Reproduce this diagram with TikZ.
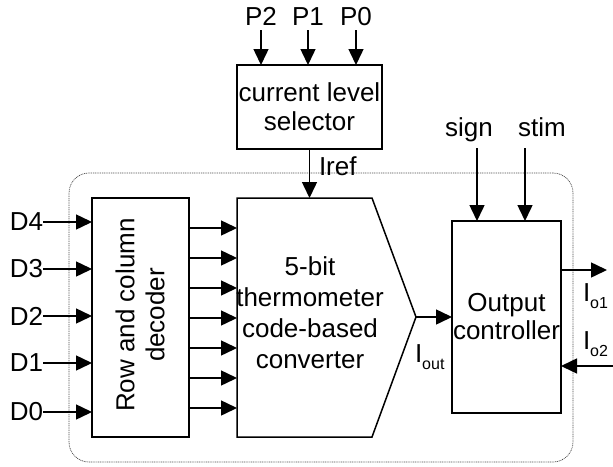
\documentclass[tikz,border=0pt]{standalone}
\usepackage{fontspec}
\setmainfont{Liberation Sans}
\usetikzlibrary{arrows.meta,calc}
\newcommand{\subtxt}[1]{\raisebox{-7pt}{\fontsize{16}{16}\selectfont #1}}
\begin{document}
\begin{tikzpicture}[x=1pt,y=-1pt,
  every node/.style={font=\fontsize{26}{29}\selectfont, inner sep=0pt, outer sep=0pt},
  blk/.style={draw, line width=1.5pt},
  arr/.style={-{Triangle[length=16pt,width=15pt]}, line width=1.5pt},
  frame/.style={draw=black!70, line width=0.7pt, dash pattern=on 1pt off 0.8pt, rounded corners=20pt}]
\useasboundingbox (0,0) rectangle (613,466);
% outer dotted frame
\node[frame, minimum width=504, minimum height=289] (frm) at (321,317.5) {};
% current level selector
\node[draw, line width=2.8pt, minimum width=145, minimum height=84, align=center] (sel) at (309.5,107) {current level\\selector};
\node[anchor=base] (p2) at (261,25) {P2};
\node[anchor=base] (p1) at (308,25) {P1};
\node[anchor=base] (p0) at (356,25) {P0};
\foreach \p in {p2,p1,p0}{
  \draw[arr, shorten <=5pt] (\p.south) -- (\p.south |- sel.north);
}
% decoder
\node[blk, minimum width=97, minimum height=239] (dec) at (140.5,317.5) {};
\node[rotate=90, align=center, font=\fontsize{26}{30}\selectfont] (dectxt) at (140,315) {Row and column\\decoder};
% converter
\node[minimum width=135, minimum height=239] (conv) at (304.5,317.5) {};
\coordinate (tip) at (416,317);
\draw[line width=1.5pt, line join=miter] (conv.north west) -- (conv.north east) -- (tip) -- (conv.south east) -- (conv.south west) -- cycle;
\node[align=center, font=\fontsize{26}{31}\selectfont] (convtxt) at (310,313) {5-bit\\thermometer\\code-based\\converter};
% output controller
\node[blk, minimum width=109, minimum height=192, align=center, font=\fontsize{26}{28}\selectfont] (oc) at (506.5,317) {Output\\controller};
% Iref
\draw[arr] (sel.south) -- (sel.south |- conv.north);
\node[anchor=base west] (iref) at (319,175) {Iref};
% D inputs
\foreach \n/\y in {4/222,3/269,2/316,1/363,0/412}{
  \node[anchor=east] (d\n) at (43,\y) {D\n};
  \draw[arr] (d\n.east) -- (d\n.east -| dec.west);
}
% decoder -> converter
\foreach \y in {228,258,288,318,348,378,408}{
  \coordinate (dc\y) at (189,\y);
  \draw[arr] (dc\y) -- (dc\y -| conv.west);
}
% sign, stim
\node[anchor=base] (sign) at (469,136) {sign};
\node[anchor=base] (stim) at (542,136) {stim};
\coordinate (sg) at (477,148);
\coordinate (st) at (525,148);
\draw[arr] (sg) -- (sg |- oc.north);
\draw[arr] (st) -- (st |- oc.north);
% Iout
\draw[arr] (tip) -- (tip -| oc.west);
\node[anchor=base west] (iout) at (415,362) {I\subtxt{out}};
% outputs
\coordinate (o1) at (607,270);
\draw[arr] (o1 -| oc.east) -- (o1);
\node[anchor=base west] (io1) at (583,301) {I\subtxt{o1}};
\coordinate (o2) at (613,366);
\draw[arr] (o2) -- (o2 -| oc.east);
\node[anchor=base west] (io2) at (583,349) {I\subtxt{o2}};
\end{tikzpicture}
\end{document}
